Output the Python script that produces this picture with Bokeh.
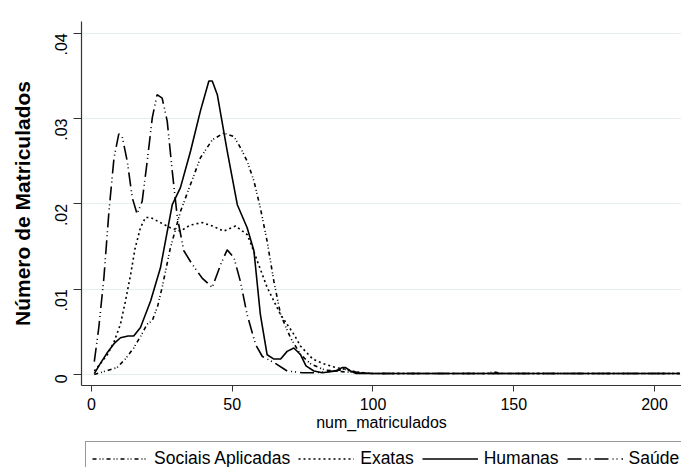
import math
from bokeh.plotting import figure
from bokeh.layouts import column
from bokeh.models import Range1d, FixedTicker, CustomJSTickFormatter, Legend, LegendItem
from bokeh.embed import file_html
from bokeh.resources import INLINE

# Data (kernel density estimates)
sa_x = [1, 3.2, 6, 9.1, 12, 15, 17.5, 19.8, 21.6, 23.5, 25.1, 28, 31.6, 35.2, 38.7, 42.9, 47, 50.6, 52.9, 55.3,
        57.7, 60, 62.4, 64.8, 67.2, 70.7, 74.3, 78, 83, 90, 100, 120, 140, 143, 146, 170, 200, 209]
sa_y = [0.0, 0.0002, 0.0005, 0.0008, 0.0018, 0.0031, 0.0045, 0.0059, 0.0063, 0.0080, 0.0102, 0.0148, 0.0191,
        0.0223, 0.0254, 0.0275, 0.0283, 0.0279, 0.0266, 0.025, 0.0227, 0.0195, 0.0156, 0.0109, 0.007, 0.0043,
        0.0023, 0.0012, 0.0005, 0.0003, 0.0001, 0.0001, 0.0001, 0.0003, 0.0001, 0.0001, 0.0001, 0.0001]

ex_x = [1, 3, 5.6, 8, 10.3, 12, 13.9, 15.5, 17.4, 19.2, 21, 23.3, 28, 31.6, 35, 39.3, 43, 47, 51.2, 55.3, 57,
        58.9, 62.4, 67.2, 71.9, 74.3, 78.6, 82, 86.9, 90, 94, 100, 120, 150, 180, 209]
ex_y = [0.0004, 0.0012, 0.0023, 0.0038, 0.0059, 0.0085, 0.0117, 0.0148, 0.0172, 0.0184, 0.0184, 0.018, 0.0172,
        0.0168, 0.0175, 0.0178, 0.0174, 0.0168, 0.0174, 0.0164, 0.015, 0.0133, 0.0102, 0.007, 0.0047, 0.0033,
        0.0018, 0.0013, 0.0008, 0.0006, 0.0003, 0.0001, 0.0001, 0.0001, 0.0001, 0.0001]

hu_x = [1, 3, 5.5, 8, 10.3, 13, 15, 17.4, 21, 24.5, 28.7, 31.6, 35.2, 38.7, 41.7, 42.9, 44.7, 48.2, 51.8, 55.3,
        57.7, 60, 62.4, 64.8, 67.2, 69.5, 71.9, 74.3, 76.2, 79, 82, 86.9, 89, 90.3, 92, 94, 100, 130, 160, 209]
hu_y = [0.0001, 0.0012, 0.0025, 0.0036, 0.0043, 0.0045, 0.0045, 0.0055, 0.0086, 0.0125, 0.0199, 0.0219, 0.0262,
        0.0309, 0.0344, 0.0344, 0.0328, 0.0262, 0.0199, 0.0172, 0.0145, 0.007, 0.0023, 0.0018, 0.0018, 0.0027,
        0.0031, 0.0023, 0.001, 0.0004, 0.0002, 0.0004, 0.0008, 0.0008, 0.0004, 0.0001, 0.0001, 0.0001, 0.0001, 0.0001]

sd_x = [1, 2.6, 4.4, 6.2, 8, 9.7, 10.9, 12.7, 14.5, 16.2, 18, 19.8, 21.6, 23.3, 25.1, 26.9, 28.7, 30.5, 32.8, 35.8,
        39.3, 42.9, 45.9, 48.2, 50.6, 52.9, 55.3, 58.3, 60.7, 64.8, 69.5, 75, 80, 86, 90, 95, 100, 130, 160, 209]
sd_y = [0.0015, 0.0055, 0.0113, 0.0191, 0.0254, 0.0282, 0.0279, 0.025, 0.0207, 0.0188, 0.0203, 0.025, 0.0301,
        0.0328, 0.0324, 0.0297, 0.0238, 0.0184, 0.0145, 0.0129, 0.0113, 0.0102, 0.0129, 0.0146, 0.0137, 0.0109,
        0.007, 0.0035, 0.0021, 0.0014, 0.0004, 0.0002, 0.0002, 0.0004, 0.0006, 0.0002, 0.0001, 0.0001, 0.0001, 0.0001]

series_names = ["Sociais Aplicadas", "Exatas", "Humanas", "Saúde"]
x_ticks = [0, 50, 100, 150, 200]
y_ticks = [0, 0.01, 0.02, 0.03, 0.04]

FONT = "Liberation Sans"
LW = 1.6
STYLES = [dict(line_dash="4 3 1 2 1 3"), dict(line_dash="2 3"), dict(line_dash="solid"),
          dict(line_dash="14 4 1 3 1 4")]
XS = [sa_x, ex_x, hu_x, sd_x]
YS = [sa_y, ex_y, hu_y, sd_y]

p = figure(width=681, height=437, output_backend="svg", toolbar_location=None,
           x_range=Range1d(-3.55, 209.6), y_range=Range1d(-0.0013, 0.04138),
           min_border_left=81, min_border_top=21, min_border_right=0, min_border_bottom=52)
p.outline_line_color = None
p.background_fill_color = "white"
p.border_fill_color = "white"

p.xgrid.grid_line_color = None
p.ygrid.grid_line_color = "#E6EEF0"
p.ygrid.grid_line_width = 1.2
p.ygrid.ticker = FixedTicker(ticks=y_ticks)

p.xaxis.ticker = FixedTicker(ticks=x_ticks)
p.yaxis.ticker = FixedTicker(ticks=y_ticks)
p.yaxis.formatter = CustomJSTickFormatter(code="""
if (Math.abs(tick) < 1e-12) return "0";
return tick.toFixed(2).replace(/^0/, "");
""")
for ax in (p.xaxis[0], p.yaxis[0]):
    ax.axis_line_color = "#333333"
    ax.axis_line_width = 1.2
    ax.major_tick_line_color = "#333333"
    ax.major_tick_in = 0
    ax.minor_tick_line_color = None
    ax.major_label_text_font = FONT
    ax.major_label_text_font_size = "16px"
    ax.major_label_text_color = "black"
    ax.axis_label_text_font = FONT
    ax.axis_label_text_color = "black"

p.yaxis.major_tick_out = 8
p.yaxis.major_label_orientation = math.pi / 2
p.yaxis.major_label_standoff = 12
p.yaxis.axis_label = "Número de Matriculados"
p.yaxis.axis_label_text_font_size = "21px"
p.yaxis.axis_label_text_font_style = "bold"
p.yaxis.axis_label_standoff = 13

p.xaxis.major_tick_out = 6
p.xaxis.major_label_standoff = 6
p.xaxis.axis_label = "num_matriculados"
p.xaxis.axis_label_text_font_size = "16px"
p.xaxis.axis_label_text_font_style = "normal"
p.xaxis.axis_label_standoff = 1

for xs, ys, st in zip(XS, YS, STYLES):
    p.line(xs, ys, line_color="black", line_width=LW, **st)

# Legend strip under the plot (its frame is aligned with the main plot frame).
# The series are drawn here too but kept outside its visible y range; only the legend shows.
lg = figure(width=681, height=30, output_backend="svg", toolbar_location=None,
            x_range=Range1d(-3.55, 209.6), y_range=Range1d(1, 2), x_axis_type=None, y_axis_type=None,
            min_border_left=81, min_border_right=0, min_border_top=0, min_border_bottom=0)
lg.outline_line_color = None
lg.xgrid.grid_line_color = None
lg.ygrid.grid_line_color = None
lg_renderers = [lg.line(xs, ys, line_color="black", line_width=LW, **st) for xs, ys, st in zip(XS, YS, STYLES)]
legend = Legend(items=[LegendItem(label=n, renderers=[r]) for n, r in zip(series_names, lg_renderers)],
                orientation="horizontal", location="top_left")
legend.border_line_color = "#333333"
legend.border_line_width = 1.2
legend.background_fill_color = "white"
legend.label_text_font = FONT
legend.label_text_font_size = "17.5px"
legend.label_text_color = "black"
legend.glyph_width = 56
legend.glyph_height = 17
legend.label_height = 17
legend.label_standoff = 6
legend.spacing = 8
legend.padding = 6
legend.margin = 4
lg.add_layout(legend, "center")

layout = column(p, lg, spacing=0)
open("out.html", "w").write(file_html(layout, INLINE))
